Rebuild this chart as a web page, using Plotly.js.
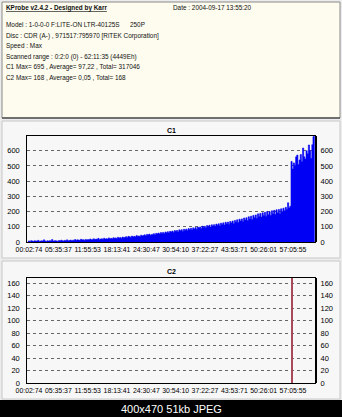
<!DOCTYPE html>
<html>
<head>
<meta charset="utf-8">
<script src="https://cdn.plot.ly/plotly-3.0.1.min.js"></script>
<style>html,body{margin:0;padding:0;background:#f3f3f3;}#chart{width:342px;height:417px;}</style>
</head>
<body>
<div id="chart"></div>
<script>
// ---- data ----
const totalMinutes = 62.19;
const binMinutes = 0.25;
const c1Values = [
  5,7,4,9, 6,5,8,6, 7,11,5,6, 8,6,14,7, 5,8,6,9, 7,16,6,8, 9,7,5,10,
  8,12,9,7, 11,9,14,8, 10,13,9,12,
  12,16,11,14, 13,11,18,14, 15,12,17,13, 16,14,20,15,
  17,21,16,19, 18,24,17,20, 21,18,25,19, 22,19,27,21,
  24,21,28,25, 27,23,31,26, 29,25,33,28,
  31,35,30,37, 34,32,39,35, 37,34,42,38, 40,36,45,41,
  43,47,41,50, 46,52,44,49, 50,55,48,57,
  54,59,52,62, 58,63,56,66, 61,68,59,70,
  66,72,64,75, 70,76,68,80, 74,81,71,84,
  78,85,76,88, 82,90,80,93, 86,95,84,98,
  92,99,89,104, 97,103,94,108, 100,110,98,113,
  106,114,103,118, 110,120,107,124, 115,126,112,130,
  120,131,117,135, 125,138,122,142, 131,146,128,150,
  138,152,134,158, 145,160,141,166, 152,170,148,175,
  160,178,156,185, 168,188,164,192, 174,195,170,200,
  180,199,176,205, 186,208,182,212, 192,214,188,218,
  200,222,205,228, 215,258,225,235,
  530,480,520,505,
  560,572,510,540, 575,530,618,560, 545,600,580,638, 600,550,640,693,
  695
];
const c2Times = [57.2];
const c2Values = [168];
// positions (in minutes along the axis) where the tick labels sit in the picture
const tickPositions = [0.37, 6.71, 13.05, 19.39, 25.73, 32.07, 38.41, 44.75, 51.09, 57.43];
const tickLabels = ["00:02:74","05:35:37","11:55:53","18:13:41","24:30:47","30:54:10","37:22:27","43:53:71","50:26:01","57:05:55"];
const c1Ticks = [0,100,200,300,400,500,600];
const c2Ticks = [0,20,40,60,80,100,120,140,160];
const headerTitle = "KProbe v2.4.2 - Designed by Karr";
const headerDate = "Date : 2004-09-17 13:55:20";
const headerLines = [
  "Model : 1-0-0-0 F:LITE-ON LTR-40125S",
  "Disc : CDR (A-) , 971517:795970 [RiTEK Corporation]",
  "Speed : Max",
  "Scanned range : 0:2:0 (0) - 62:11:35 (4449Eh)",
  "C1 Max= 695 , Average= 97,22 , Total= 317046",
  "C2 Max= 168 , Average= 0,05 , Total= 168"
];
const firmware = "250P";
const footerText = "400x470 51kb JPEG";

// ---- layout helpers ----
const W = 342, H = 417;
const px = v => v / W;
const py = v => 1 - v / H;
const c1Times = c1Values.map((_, i) => i * binMinutes + binMinutes / 2);

const FONT = "Liberation Sans, Arial, sans-serif";
const xTickFont = {family: FONT, size: 6.9, color: "#000"};
const yTickFont = {family: FONT, size: 7.5, color: "#000"};

function xAxis(anchor) {
  return {
    domain: [px(27.3), px(315)], anchor: anchor, range: [0, totalMinutes],
    tickmode: "array", tickvals: tickPositions, ticktext: tickLabels, tickfont: xTickFont,
    tickangle: 0, ticks: "", showgrid: false, zeroline: false, showline: true, linecolor: "#000",
    linewidth: 1, mirror: true, ticklabelstandoff: 1, fixedrange: true
  };
}
function yAxis(anchor, top, bottom, maxv, ticks) {
  return {
    domain: [py(bottom), py(top)], anchor: anchor, range: [0, maxv],
    tickmode: "array", tickvals: ticks, tickfont: yTickFont, ticks: "",
    showgrid: true, gridcolor: "#666", griddash: "dot", gridwidth: 1,
    zeroline: false, showline: true, linecolor: "#000", linewidth: 1, mirror: true,
    ticklabelstandoff: 5
  };
}
function yAxisRight(anchor, overlay, maxv, ticks) {
  return {
    overlaying: overlay, side: "right", anchor: anchor, range: [0, maxv],
    tickmode: "array", tickvals: ticks, tickfont: yTickFont, ticks: "",
    showgrid: false, zeroline: false, showline: true, linecolor: "#000", linewidth: 2,
    ticklabelstandoff: 2
  };
}

const traces = [
  {type: "scatter", mode: "lines", x: c1Times, y: c1Values, xaxis: "x", yaxis: "y",
   line: {shape: "hvh", color: "#0000f5", width: 0.6}, fill: "tozeroy", fillcolor: "#0000f5",
   hoverinfo: "skip"},
  {type: "scatter", x: [0], y: [0], xaxis: "x", yaxis: "y2", mode: "markers",
   marker: {opacity: 0}, hoverinfo: "skip"},
  {type: "bar", x: c2Times, y: c2Values, width: 0.3, xaxis: "x2", yaxis: "y3",
   marker: {color: "#a84a5c", line: {width: 0}}, hoverinfo: "skip"},
  {type: "scatter", x: [0], y: [0], xaxis: "x2", yaxis: "y4", mode: "markers",
   marker: {opacity: 0}, hoverinfo: "skip"}
];

const shapes = [
  {type: "rect", xref: "paper", yref: "paper", x0: px(2), x1: px(340), y0: py(118), y1: py(2),
   fillcolor: "#fdfcee", line: {color: "#8a8a8a", width: 1}, layer: "below"},
  {type: "line", xref: "paper", yref: "paper", x0: px(2), x1: px(340), y0: py(118), y1: py(118),
   line: {color: "#555", width: 1.5}, layer: "below"},
  {type: "rect", xref: "paper", yref: "paper", x0: px(2), x1: px(340), y0: py(258), y1: py(121),
   fillcolor: "#f7f7f7", line: {color: "#c8c8c8", width: 1}, layer: "below"},
  {type: "rect", xref: "paper", yref: "paper", x0: px(2), x1: px(340), y0: py(399), y1: py(261),
   fillcolor: "#f7f7f7", line: {color: "#c8c8c8", width: 1}, layer: "below"},
  {type: "rect", xref: "paper", yref: "paper", x0: 0, x1: 1, y0: 0, y1: py(400),
   fillcolor: "#000", line: {width: 0}, layer: "below"}
];

const annotations = [];
const hdrFont = {family: FONT, size: 6.4, color: "#111"};
annotations.push({xref: "paper", yref: "paper", x: px(4), y: py(8), xanchor: "left", yanchor: "middle",
  text: "<b><u>" + headerTitle + "</u></b>", showarrow: false, font: hdrFont});
annotations.push({xref: "paper", yref: "paper", x: px(171), y: py(7.5), xanchor: "left", yanchor: "middle",
  text: headerDate, showarrow: false, font: hdrFont});
const lineY = [25, 35.5, 46, 56.5, 67, 78.5];
headerLines.forEach((t, i) => annotations.push({xref: "paper", yref: "paper", x: px(4), y: py(lineY[i]),
  xanchor: "left", yanchor: "middle", text: t, showarrow: false, font: hdrFont}));
annotations.push({xref: "paper", yref: "paper", x: px(128), y: py(25), xanchor: "left", yanchor: "middle",
  text: firmware, showarrow: false, font: hdrFont});
annotations.push({xref: "paper", yref: "paper", x: px(171), y: py(130), xanchor: "center", yanchor: "middle",
  text: "<b>C1</b>", showarrow: false, font: {family: FONT, size: 7, color: "#000"}});
annotations.push({xref: "paper", yref: "paper", x: px(171), y: py(271), xanchor: "center", yanchor: "middle",
  text: "<b>C2</b>", showarrow: false, font: {family: FONT, size: 7, color: "#000"}});
annotations.push({xref: "paper", yref: "paper", x: px(171.5), y: py(409), xanchor: "center", yanchor: "middle",
  text: footerText, showarrow: false, font: {family: FONT, size: 11, color: "#fff"}});

const layout = {
  width: W, height: H, margin: {l: 0, r: 0, t: 0, b: 0, pad: 0},
  paper_bgcolor: "#ececec", plot_bgcolor: "#eef0fb", showlegend: false,
  bargap: 0, barmode: "overlay",
  xaxis: xAxis("y"),
  yaxis: yAxis("x", 136, 242, 697, c1Ticks),
  yaxis2: yAxisRight("x", "y", 697, c1Ticks),
  xaxis2: xAxis("y3"),
  yaxis3: yAxis("x2", 278, 383, 168, c2Ticks),
  yaxis4: yAxisRight("x2", "y3", 168, c2Ticks),
  shapes: shapes, annotations: annotations
};

Plotly.newPlot("chart", traces, layout, {displayModeBar: false, staticPlot: true});
</script>
</body>
</html>
